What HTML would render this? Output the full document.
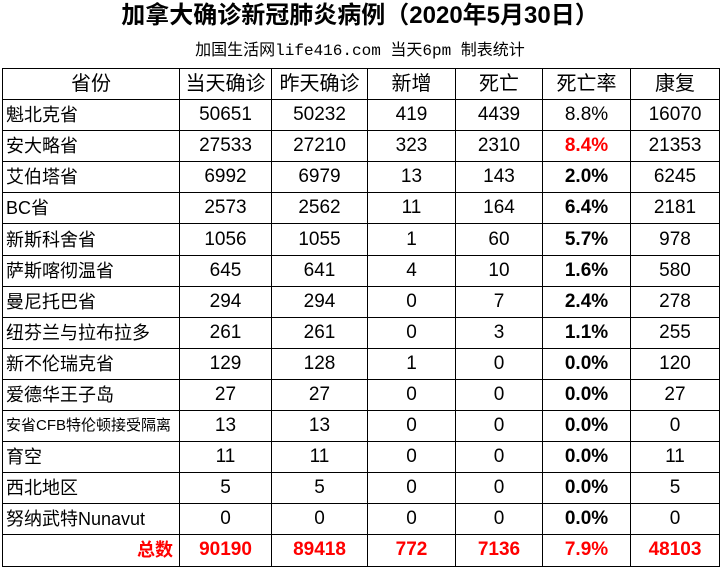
<!DOCTYPE html>
<html><head><meta charset="utf-8"><style>
body{margin:0;width:720px;height:588px;background:#fff;position:relative;overflow:hidden;font-family:"Liberation Sans","Noto Sans CJK SC",sans-serif;}
.t{position:absolute;left:0;width:720px;top:1px;text-align:center;font-weight:bold;font-size:24px;line-height:30px;}
.s{position:absolute;left:0;width:720px;top:40px;text-align:center;font-size:16px;line-height:22px;font-family:"Liberation Mono","Noto Sans CJK SC",monospace;}
table{position:absolute;left:2px;top:68px;border-collapse:collapse;table-layout:fixed;width:717px;}
td{border:1px solid #000;height:30.1px;padding:0;text-align:center;font-size:19px;line-height:20px;white-space:nowrap;overflow:hidden;}
td:first-child{text-align:left;padding-left:3px;font-size:18px;}
tr.h td{text-align:center;padding:0;font-size:20px;}
.b{font-weight:bold;}
.r{color:#f00;font-weight:bold;}
tr.tot td{color:#f00;font-weight:bold;}
tr.tot td:first-child{text-align:right;padding-right:6px;}
</style></head><body>
<div class="t">加拿大确诊新冠肺炎病例（2020年5月30日）</div>
<div class="s">加国生活网life416.com 当天6pm 制表统计</div>
<table>
<colgroup><col style="width:177px"><col style="width:92px"><col style="width:96px"><col style="width:88px"><col style="width:87px"><col style="width:88px"><col style="width:89px"></colgroup>
<tr class="h"><td>省份</td><td>当天确诊</td><td>昨天确诊</td><td>新增</td><td>死亡</td><td>死亡率</td><td>康复</td></tr>
<tr><td>魁北克省</td><td>50651</td><td>50232</td><td>419</td><td>4439</td><td>8.8%</td><td>16070</td></tr>
<tr><td>安大略省</td><td>27533</td><td>27210</td><td>323</td><td>2310</td><td class="r">8.4%</td><td>21353</td></tr>
<tr><td>艾伯塔省</td><td>6992</td><td>6979</td><td>13</td><td>143</td><td class="b">2.0%</td><td>6245</td></tr>
<tr><td>BC省</td><td>2573</td><td>2562</td><td>11</td><td>164</td><td class="b">6.4%</td><td>2181</td></tr>
<tr><td>新斯科舍省</td><td>1056</td><td>1055</td><td>1</td><td>60</td><td class="b">5.7%</td><td>978</td></tr>
<tr><td>萨斯喀彻温省</td><td>645</td><td>641</td><td>4</td><td>10</td><td class="b">1.6%</td><td>580</td></tr>
<tr><td>曼尼托巴省</td><td>294</td><td>294</td><td>0</td><td>7</td><td class="b">2.4%</td><td>278</td></tr>
<tr><td>纽芬兰与拉布拉多</td><td>261</td><td>261</td><td>0</td><td>3</td><td class="b">1.1%</td><td>255</td></tr>
<tr><td>新不伦瑞克省</td><td>129</td><td>128</td><td>1</td><td>0</td><td class="b">0.0%</td><td>120</td></tr>
<tr><td>爱德华王子岛</td><td>27</td><td>27</td><td>0</td><td>0</td><td class="b">0.0%</td><td>27</td></tr>
<tr><td style="font-size:15px">安省CFB特伦顿接受隔离</td><td>13</td><td>13</td><td>0</td><td>0</td><td class="b">0.0%</td><td>0</td></tr>
<tr><td>育空</td><td>11</td><td>11</td><td>0</td><td>0</td><td class="b">0.0%</td><td>11</td></tr>
<tr><td>西北地区</td><td>5</td><td>5</td><td>0</td><td>0</td><td class="b">0.0%</td><td>5</td></tr>
<tr><td>努纳武特Nunavut</td><td>0</td><td>0</td><td>0</td><td>0</td><td class="b">0.0%</td><td>0</td></tr>
<tr class="tot"><td>总数</td><td>90190</td><td>89418</td><td>772</td><td>7136</td><td>7.9%</td><td>48103</td></tr>
</table>
</body></html>
